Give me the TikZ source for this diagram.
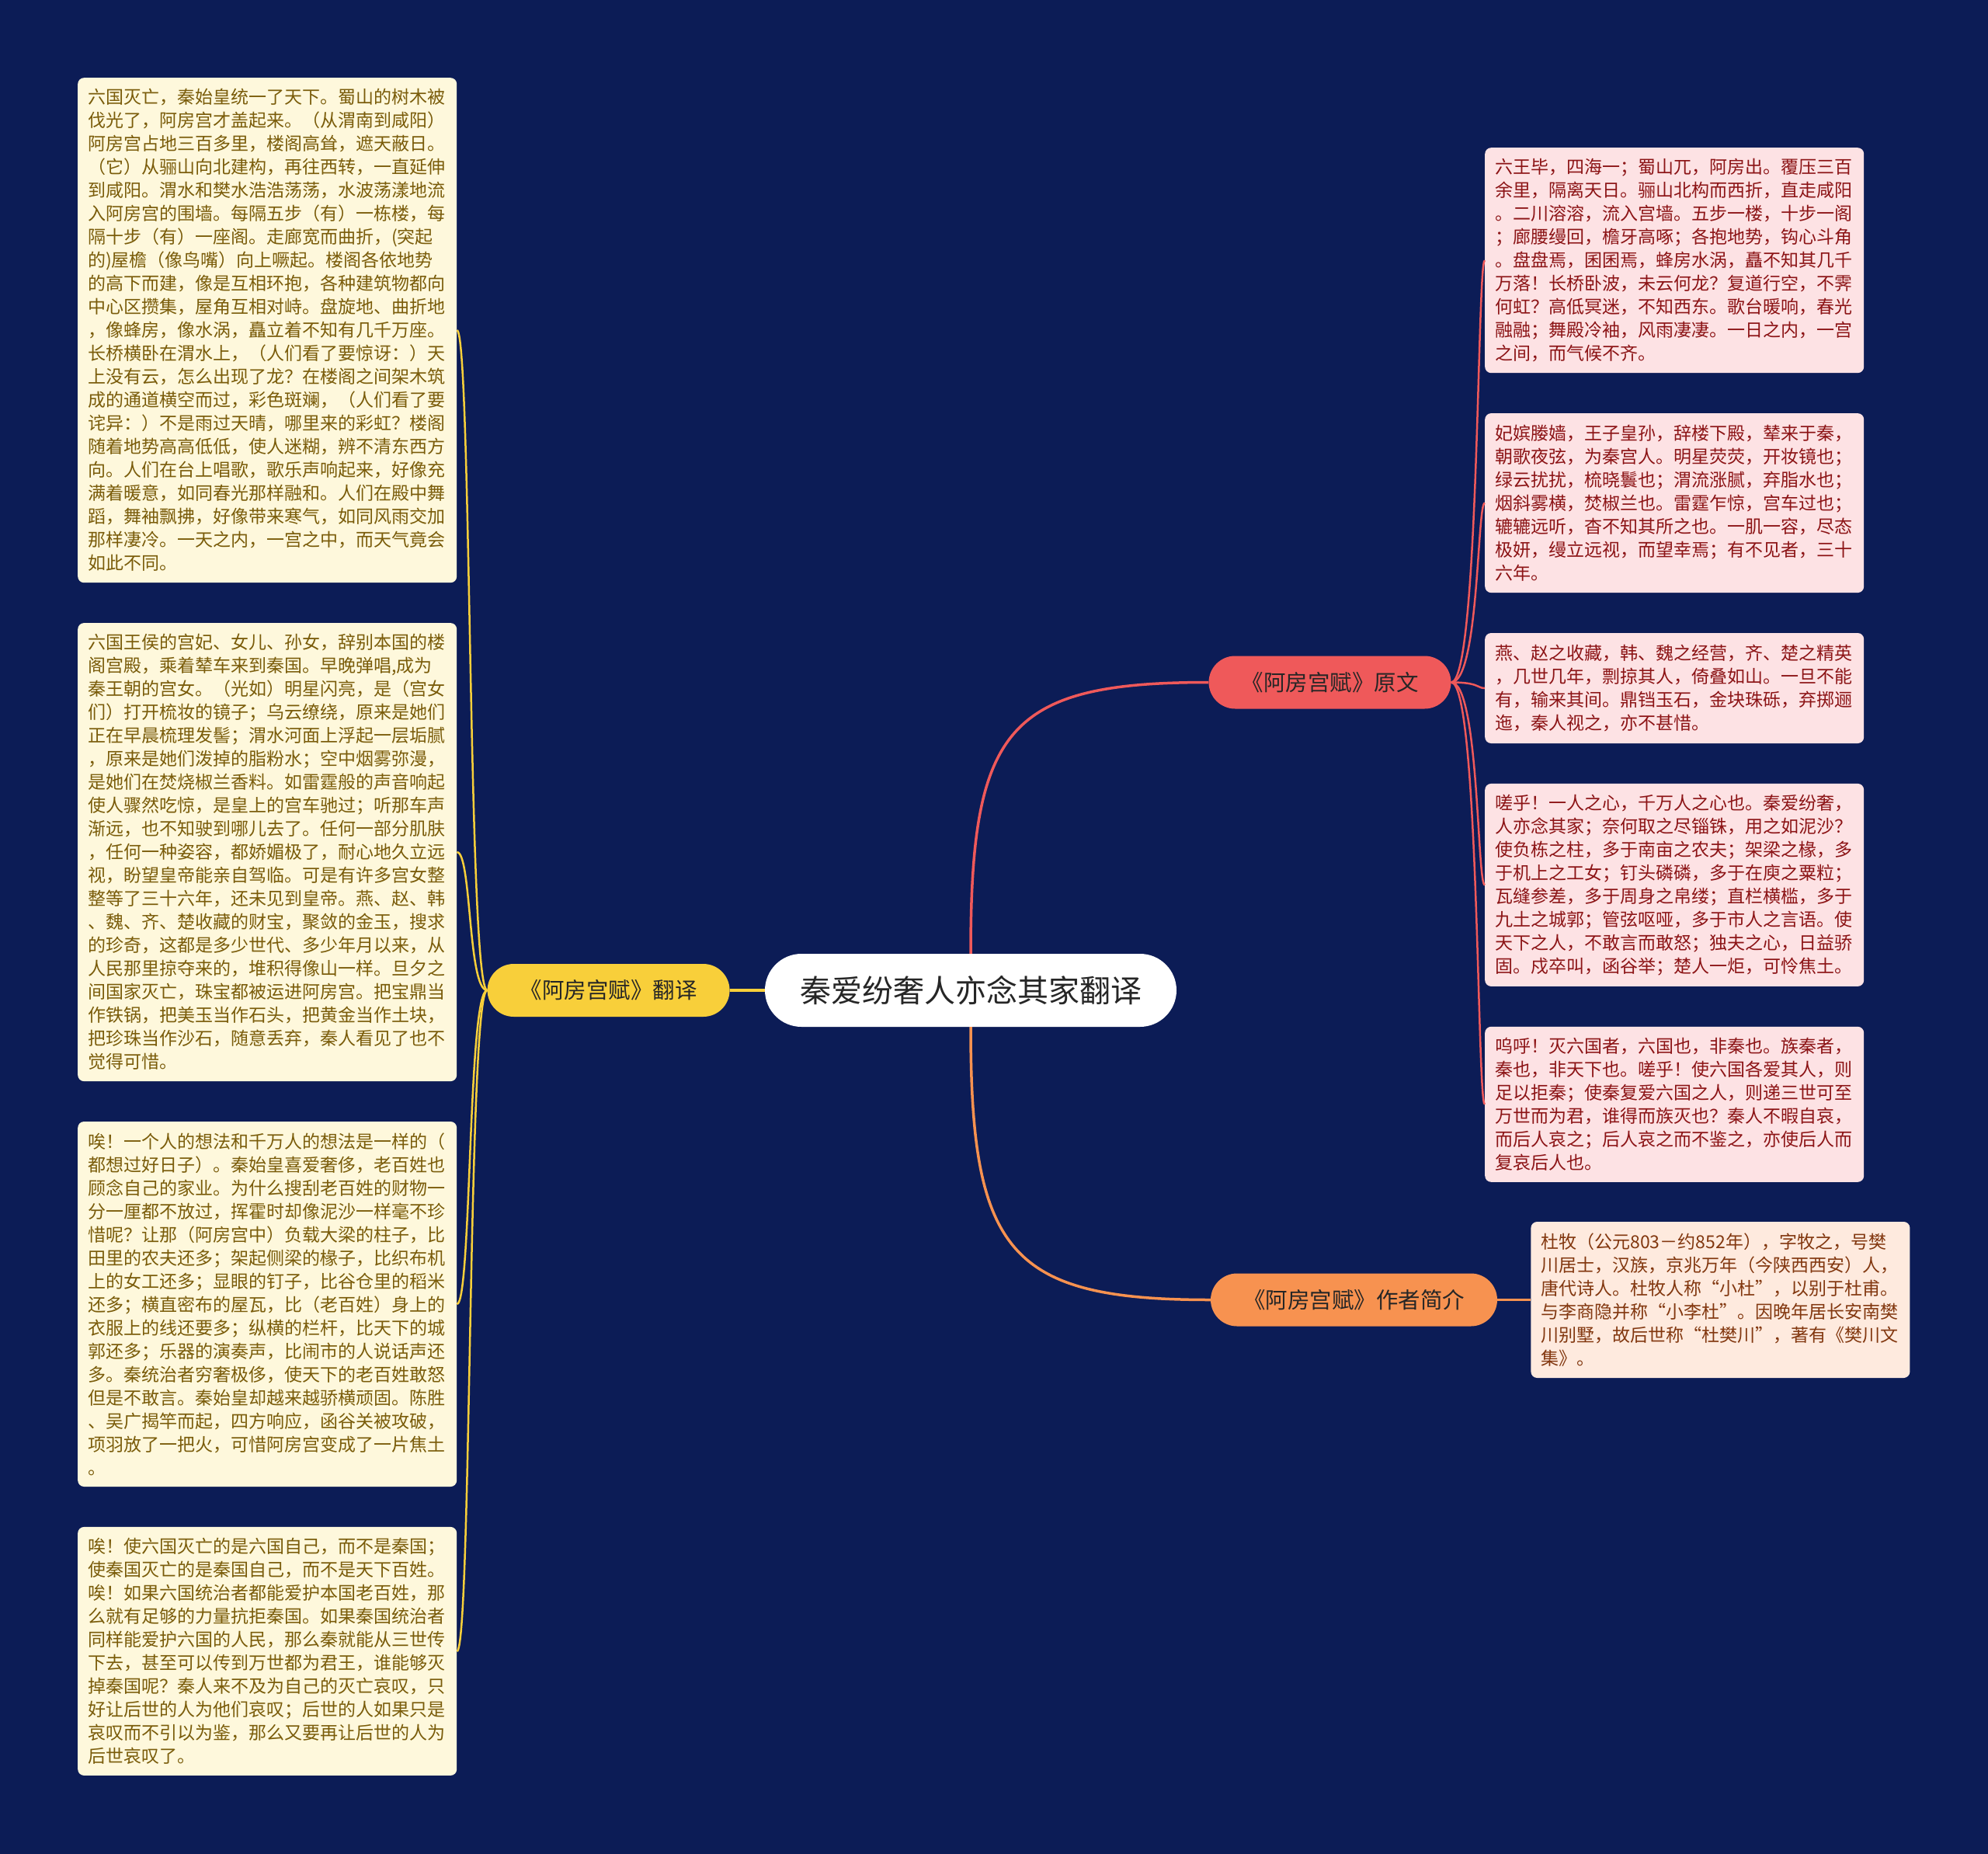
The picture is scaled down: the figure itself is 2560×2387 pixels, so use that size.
\documentclass[tikz,border=0pt]{standalone}
\usepackage{fontspec}
\newfontfamily\cjk{Noto Sans CJK SC}
\usetikzlibrary{positioning,calc}
\definecolor{bgnavy}{RGB}{12,28,86}
\definecolor{goldline}{RGB}{248,207,58}
\definecolor{coralline}{RGB}{239,89,90}
\definecolor{orangeline}{RGB}{247,146,80}
\definecolor{creamfill}{RGB}{254,248,220}
\definecolor{olivetext}{RGB}{122,92,10}
\definecolor{pinkfill}{RGB}{253,226,228}
\definecolor{redtext}{RGB}{140,20,22}
\definecolor{peachfill}{RGB}{254,234,222}
\definecolor{browntext}{RGB}{130,55,15}

\begin{document}
\begin{tikzpicture}[x=1pt, y=-1pt,
      root/.style={fill=white, rounded corners=47pt, minimum width=530pt, minimum height=94pt,
                   font=\cjk\fontsize{40}{48}\selectfont, text=black!85},
      topic/.style={rounded corners=34pt, minimum height=68pt, inner xsep=42pt,
                    font=\cjk\fontsize{28.5}{34}\selectfont, text=black!85},
      leaf/.style={rounded corners=8pt, text width=462pt, inner xsep=13pt, inner ysep=0pt,
                   align=left, font=\cjk\fontsize{23}{30}\selectfont},
      fyleaf/.style={leaf, fill=creamfill, text=olivetext},
      ywleaf/.style={leaf, fill=pinkfill, text=redtext},
      mainlink/.style={line width=3.5pt},
      leaflink/.style={line width=2.5pt},
      node distance=51.5pt
    ]
      \fill[bgnavy] (0,0) rectangle (2560,2387);

      \node[root] (ctr) at (1250,1275) {秦爱纷奢人亦念其家翻译};
      \node[topic, fill=goldline, left=45pt of ctr] (fanyi) {《阿房宫赋》翻译};
      \node[topic, fill=coralline] (yuanwen) at (1712.5,878.5) {《阿房宫赋》原文};
      \node[topic, fill=orangeline] (zuozhe) at (1743.5,1673.5) {《阿房宫赋》作者简介};

      % translation column
      \node[fyleaf, minimum height=650pt, anchor=north west] (fy1) at (100,100) {六国灭亡，秦始皇统一了天下。蜀山的树木被\\伐光了，阿房宫才盖起来。（从渭南到咸阳）\\阿房宫占地三百多里，楼阁高耸，遮天蔽日。\\（它）从骊山向北建构，再往西转，一直延伸\\到咸阳。渭水和樊水浩浩荡荡，水波荡漾地流\\入阿房宫的围墙。每隔五步（有）一栋楼，每\\隔十步（有）一座阁。走廊宽而曲折，(突起\\的)屋檐（像鸟嘴）向上噘起。楼阁各依地势\\的高下而建，像是互相环抱，各种建筑物都向\\中心区攒集，屋角互相对峙。盘旋地、曲折地\\，像蜂房，像水涡，矗立着不知有几千万座。\\长桥横卧在渭水上，（人们看了要惊讶：）天\\上没有云，怎么出现了龙？在楼阁之间架木筑\\成的通道横空而过，彩色斑斓，（人们看了要\\诧异：）不是雨过天晴，哪里来的彩虹？楼阁\\随着地势高高低低，使人迷糊，辨不清东西方\\向。人们在台上唱歌，歌乐声响起来，好像充\\满着暖意，如同春光那样融和。人们在殿中舞\\蹈，舞袖飘拂，好像带来寒气，如同风雨交加\\那样凄冷。一天之内，一宫之中，而天气竟会\\如此不同。};
      \node[fyleaf, minimum height=590pt, below=of fy1] (fy2) {六国王侯的宫妃、女儿、孙女，辞别本国的楼\\阁宫殿，乘着辇车来到秦国。早晚弹唱,成为\\秦王朝的宫女。（光如）明星闪亮，是（宫女\\们）打开梳妆的镜子；乌云缭绕，原来是她们\\正在早晨梳理发髻；渭水河面上浮起一层垢腻\\，原来是她们泼掉的脂粉水；空中烟雾弥漫，\\是她们在焚烧椒兰香料。如雷霆般的声音响起\\使人骤然吃惊，是皇上的宫车驰过；听那车声\\渐远，也不知驶到哪儿去了。任何一部分肌肤\\，任何一种姿容，都娇媚极了，耐心地久立远\\视，盼望皇帝能亲自驾临。可是有许多宫女整\\整等了三十六年，还未见到皇帝。燕、赵、韩\\、魏、齐、楚收藏的财宝，聚敛的金玉，搜求\\的珍奇，这都是多少世代、多少年月以来，从\\人民那里掠夺来的，堆积得像山一样。旦夕之\\间国家灭亡，珠宝都被运进阿房宫。把宝鼎当\\作铁锅，把美玉当作石头，把黄金当作土块，\\把珍珠当作沙石，随意丢弃，秦人看见了也不\\觉得可惜。};
      \node[fyleaf, minimum height=470pt, below=of fy2] (fy3) {唉！一个人的想法和千万人的想法是一样的（\\都想过好日子）。秦始皇喜爱奢侈，老百姓也\\顾念自己的家业。为什么搜刮老百姓的财物一\\分一厘都不放过，挥霍时却像泥沙一样毫不珍\\惜呢？让那（阿房宫中）负载大梁的柱子，比\\田里的农夫还多；架起侧梁的椽子，比织布机\\上的女工还多；显眼的钉子，比谷仓里的稻米\\还多；横直密布的屋瓦，比（老百姓）身上的\\衣服上的线还要多；纵横的栏杆，比天下的城\\郭还多；乐器的演奏声，比闹市的人说话声还\\多。秦统治者穷奢极侈，使天下的老百姓敢怒\\但是不敢言。秦始皇却越来越骄横顽固。陈胜\\、吴广揭竿而起，四方响应，函谷关被攻破，\\项羽放了一把火，可惜阿房宫变成了一片焦土\\。};
      \node[fyleaf, minimum height=320pt, below=of fy3] (fy4) {唉！使六国灭亡的是六国自己，而不是秦国；\\使秦国灭亡的是秦国自己，而不是天下百姓。\\唉！如果六国统治者都能爱护本国老百姓，那\\么就有足够的力量抗拒秦国。如果秦国统治者\\同样能爱护六国的人民，那么秦就能从三世传\\下去，甚至可以传到万世都为君王，谁能够灭\\掉秦国呢？秦人来不及为自己的灭亡哀叹，只\\好让后世的人为他们哀叹；后世的人如果只是\\哀叹而不引以为鉴，那么又要再让后世的人为\\后世哀叹了。};

      % original text column
      \node[ywleaf, minimum height=290pt, anchor=north west] (yw1) at (1912,190) {六王毕，四海一；蜀山兀，阿房出。覆压三百\\余里，隔离天日。骊山北构而西折，直走咸阳\\。二川溶溶，流入宫墙。五步一楼，十步一阁\\；廊腰缦回，檐牙高啄；各抱地势，钩心斗角\\。盘盘焉，囷囷焉，蜂房水涡，矗不知其几千\\万落！长桥卧波，未云何龙？复道行空，不霁\\何虹？高低冥迷，不知西东。歌台暖响，春光\\融融；舞殿冷袖，风雨凄凄。一日之内，一宫\\之间，而气候不齐。};
      \node[ywleaf, minimum height=231pt, below=of yw1] (yw2) {妃嫔媵嫱，王子皇孙，辞楼下殿，辇来于秦，\\朝歌夜弦，为秦宫人。明星荧荧，开妆镜也；\\绿云扰扰，梳晓鬟也；渭流涨腻，弃脂水也；\\烟斜雾横，焚椒兰也。雷霆乍惊，宫车过也；\\辘辘远听，杳不知其所之也。一肌一容，尽态\\极妍，缦立远视，而望幸焉；有不见者，三十\\六年。};
      \node[ywleaf, minimum height=142pt, below=of yw2] (yw3) {燕、赵之收藏，韩、魏之经营，齐、楚之精英\\，几世几年，剽掠其人，倚叠如山。一旦不能\\有，输来其间。鼎铛玉石，金块珠砾，弃掷逦\\迤，秦人视之，亦不甚惜。};
      \node[ywleaf, minimum height=261pt, below=of yw3] (yw4) {嗟乎！一人之心，千万人之心也。秦爱纷奢，\\人亦念其家；奈何取之尽锱铢，用之如泥沙？\\使负栋之柱，多于南亩之农夫；架梁之椽，多\\于机上之工女；钉头磷磷，多于在庾之粟粒；\\瓦缝参差，多于周身之帛缕；直栏横槛，多于\\九土之城郭；管弦呕哑，多于市人之言语。使\\天下之人，不敢言而敢怒；独夫之心，日益骄\\固。戍卒叫，函谷举；楚人一炬，可怜焦土。};
      \node[ywleaf, minimum height=200pt, below=of yw4] (yw5) {呜呼！灭六国者，六国也，非秦也。族秦者，\\秦也，非天下也。嗟乎！使六国各爱其人，则\\足以拒秦；使秦复爱六国之人，则递三世可至\\万世而为君，谁得而族灭也？秦人不暇自哀，\\而后人哀之；后人哀之而不鉴之，亦使后人而\\复哀后人也。};

      % author
      \node[leaf, fill=peachfill, text=browntext, minimum height=201pt, right=43pt of zuozhe] (zz1) {杜牧（公元803－约852年），字牧之，号樊\\川居士，汉族，京兆万年（今陕西西安）人，\\唐代诗人。杜牧人称“小杜”，以别于杜甫。\\与李商隐并称“小李杜”。因晚年居长安南樊\\川别墅，故后世称“杜樊川”，著有《樊川文\\集》。};

      \draw[mainlink, goldline] (ctr.west) -- (fanyi.east);
      \draw[mainlink, coralline] (ctr.north) .. controls +(0,-290) and +(-260,0) .. (yuanwen.west);
      \draw[mainlink, orangeline] (ctr.south) .. controls +(0,290) and +(-260,0) .. (zuozhe.west);
      \draw[mainlink, orangeline] (zuozhe.east) -- (zz1.west);

      \foreach \leafname in {fy1,fy2,fy3,fy4}
        \draw[leaflink, goldline] (fanyi.west) .. controls +(-25,0) and +(19,0) .. (\leafname.east);
      \foreach \leafname in {yw1,yw2,yw3,yw4,yw5}
        \draw[leaflink, coralline] (yuanwen.east) .. controls +(36,0) and +(-10,0) .. (\leafname.west);
    \end{tikzpicture}
\end{document}
